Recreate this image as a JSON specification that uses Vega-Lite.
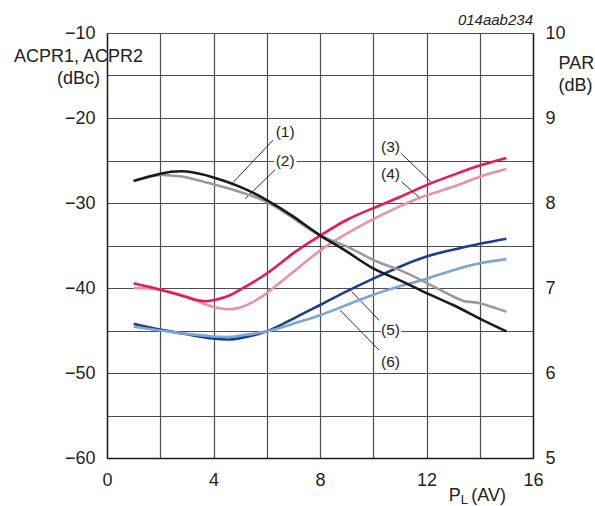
{
  "$schema": "https://vega.github.io/schema/vega-lite/v6.json",
  "width": 426,
  "height": 425,
  "autosize": {"type": "none"},
  "padding": {"left": 107, "top": 33, "right": 62, "bottom": 48},
  "background": "white",
  "config": {
    "font": "Liberation Sans",
    "view": {"stroke": null},
    "axis": {
      "labelFont": "Liberation Sans",
      "titleFont": "Liberation Sans",
      "labelFontSize": 18,
      "titleFontSize": 18,
      "titleFontWeight": "normal",
      "labelColor": "#222",
      "titleColor": "#222",
      "ticks": false,
      "tickSize": 0,
      "domainColor": "#1a1a1a",
      "domainWidth": 1.4,
      "gridColor": "#4d4d4d",
      "gridWidth": 1.2,
      "gridOpacity": 1
    }
  },
  "datasets": {
    "acpr": [
      {"s": "4", "x": 1, "y": -40.0}, {"s": "4", "x": 2, "y": -40.2}, {"s": "4", "x": 3, "y": -41.0}, {"s": "4", "x": 3.5, "y": -41.7}, {"s": "4", "x": 4, "y": -42.2}, {"s": "4", "x": 4.5, "y": -42.5}, {"s": "4", "x": 5, "y": -42.3}, {"s": "4", "x": 5.5, "y": -41.6}, {"s": "4", "x": 6, "y": -40.6}, {"s": "4", "x": 7, "y": -38.1}, {"s": "4", "x": 8, "y": -35.6}, {"s": "4", "x": 9, "y": -33.6}, {"s": "4", "x": 10, "y": -31.9}, {"s": "4", "x": 11, "y": -30.4}, {"s": "4", "x": 12, "y": -29.1}, {"s": "4", "x": 13, "y": -28.1}, {"s": "4", "x": 14, "y": -26.9}, {"s": "4", "x": 15, "y": -26.0},
      {"s": "3", "x": 1, "y": -39.45}, {"s": "3", "x": 2, "y": -40.2}, {"s": "3", "x": 3, "y": -41.1}, {"s": "3", "x": 3.7, "y": -41.55}, {"s": "3", "x": 4.5, "y": -41.0}, {"s": "3", "x": 5, "y": -40.2}, {"s": "3", "x": 6, "y": -38.3}, {"s": "3", "x": 7, "y": -35.9}, {"s": "3", "x": 8, "y": -33.85}, {"s": "3", "x": 9, "y": -32.0}, {"s": "3", "x": 10, "y": -30.6}, {"s": "3", "x": 11, "y": -29.3}, {"s": "3", "x": 12, "y": -27.9}, {"s": "3", "x": 13, "y": -26.7}, {"s": "3", "x": 14, "y": -25.6}, {"s": "3", "x": 15, "y": -24.7},
      {"s": "5", "x": 1, "y": -44.2}, {"s": "5", "x": 2, "y": -44.9}, {"s": "5", "x": 3, "y": -45.45}, {"s": "5", "x": 4, "y": -45.95}, {"s": "5", "x": 4.6, "y": -46.05}, {"s": "5", "x": 5, "y": -45.9}, {"s": "5", "x": 6, "y": -45.1}, {"s": "5", "x": 7, "y": -43.6}, {"s": "5", "x": 8, "y": -42.0}, {"s": "5", "x": 9, "y": -40.4}, {"s": "5", "x": 10, "y": -38.9}, {"s": "5", "x": 11, "y": -37.5}, {"s": "5", "x": 12, "y": -36.3}, {"s": "5", "x": 13, "y": -35.5}, {"s": "5", "x": 14, "y": -34.8}, {"s": "5", "x": 15, "y": -34.2},
      {"s": "6", "x": 1, "y": -44.55}, {"s": "6", "x": 2, "y": -45.0}, {"s": "6", "x": 3, "y": -45.4}, {"s": "6", "x": 4, "y": -45.7}, {"s": "6", "x": 4.6, "y": -45.75}, {"s": "6", "x": 5, "y": -45.6}, {"s": "6", "x": 6, "y": -45.1}, {"s": "6", "x": 7, "y": -44.2}, {"s": "6", "x": 8, "y": -43.2}, {"s": "6", "x": 9, "y": -42.0}, {"s": "6", "x": 10, "y": -40.8}, {"s": "6", "x": 11, "y": -39.8}, {"s": "6", "x": 12, "y": -38.9}, {"s": "6", "x": 13, "y": -37.9}, {"s": "6", "x": 14, "y": -37.1}, {"s": "6", "x": 15, "y": -36.6}
    ],
    "par": [
      {"s": "2", "x": 1, "par": 8.26}, {"s": "2", "x": 1.5, "par": 8.30}, {"s": "2", "x": 2, "par": 8.33}, {"s": "2", "x": 2.5, "par": 8.32}, {"s": "2", "x": 3, "par": 8.30}, {"s": "2", "x": 4, "par": 8.22}, {"s": "2", "x": 5, "par": 8.13}, {"s": "2", "x": 6, "par": 8.01}, {"s": "2", "x": 7, "par": 7.82}, {"s": "2", "x": 8, "par": 7.62}, {"s": "2", "x": 9, "par": 7.49}, {"s": "2", "x": 10, "par": 7.33}, {"s": "2", "x": 11, "par": 7.21}, {"s": "2", "x": 12, "par": 7.06}, {"s": "2", "x": 13, "par": 6.90}, {"s": "2", "x": 13.5, "par": 6.84}, {"s": "2", "x": 14, "par": 6.82}, {"s": "2", "x": 15, "par": 6.72},
      {"s": "1", "x": 1, "par": 8.26}, {"s": "1", "x": 2, "par": 8.345}, {"s": "1", "x": 3, "par": 8.37}, {"s": "1", "x": 4, "par": 8.30}, {"s": "1", "x": 5, "par": 8.19}, {"s": "1", "x": 6, "par": 8.035}, {"s": "1", "x": 7, "par": 7.84}, {"s": "1", "x": 8, "par": 7.62}, {"s": "1", "x": 9, "par": 7.43}, {"s": "1", "x": 10, "par": 7.23}, {"s": "1", "x": 11, "par": 7.09}, {"s": "1", "x": 12, "par": 6.94}, {"s": "1", "x": 13, "par": 6.80}, {"s": "1", "x": 14, "par": 6.64}, {"s": "1", "x": 15, "par": 6.49}
    ],
    "leaders": [
      {"x": 6.24, "y": -22.6, "x2": 4.73, "y2": -27.6},
      {"x": 6.31, "y": -26.1, "x2": 5.19, "y2": -29.5},
      {"x": 11.06, "y": -24.2, "x2": 12.19, "y2": -27.6},
      {"x": 11.06, "y": -27.5, "x2": 11.77, "y2": -29.45},
      {"x": 10.22, "y": -43.8, "x2": 9.19, "y2": -40.4},
      {"x": 10.22, "y": -47.3, "x2": 8.75, "y2": -42.6}
    ],
    "boxes": [
      {"x": 6.27, "x2": 7.12, "y": -24.2, "y2": -25.8},
      {"x": 10.29, "x2": 11.05, "y": -44.2, "y2": -45.8}
    ],
    "labels": [
      {"t": "(1)", "x": 6.69, "y": -21.6},
      {"t": "(2)", "x": 6.69, "y": -25.0},
      {"t": "(3)", "x": 10.65, "y": -23.4},
      {"t": "(4)", "x": 10.65, "y": -26.6},
      {"t": "(5)", "x": 10.65, "y": -44.95},
      {"t": "(6)", "x": 10.65, "y": -48.7}
    ],
    "code": [
      {"t": "014aab234", "x": 16, "y": -9.06}
    ],
    "xtitle": [
      {"t": "P", "x": 12.84, "y": -65.05},
      {"t": "(AV)", "x": 13.68, "y": -65.05}
    ],
    "xsub": [
      {"t": "L", "x": 13.29, "y": -65.4}
    ]
  },
  "layer": [
    {
      "layer": [
        {
          "data": {"name": "boxes"},
          "mark": {"type": "rect", "fill": "white", "stroke": null},
          "encoding": {
            "x": {"field": "x", "type": "quantitative", "scale": {"domain": [0, 16]}},
            "x2": {"field": "x2"},
            "y": {"field": "y", "type": "quantitative", "scale": {"domain": [-60, -10]}},
            "y2": {"field": "y2"}
          }
        },
        {
          "data": {"name": "leaders"},
          "mark": {"type": "rule", "color": "#1a1a1a", "strokeWidth": 0.9},
          "encoding": {
            "x": {"field": "x", "type": "quantitative"},
            "x2": {"field": "x2"},
            "y": {"field": "y", "type": "quantitative"},
            "y2": {"field": "y2"}
          }
        },
        {
          "data": {"name": "acpr"},
          "mark": {"type": "line", "interpolate": "natural", "strokeWidth": 2.6},
          "encoding": {
            "x": {
              "field": "x", "type": "quantitative",
              "scale": {"domain": [0, 16], "nice": false, "zero": false},
              "axis": {
                "values": [0, 2, 4, 6, 8, 10, 12, 14, 16],
                "labelExpr": "datum.value % 4 === 0 ? datum.label : ''",
                "grid": true,
                "labelPadding": 13,
                "title": null,
                "labelFlush": false,
                "labelOverlap": false
              }
            },
            "y": {
              "field": "y", "type": "quantitative",
              "scale": {"domain": [-60, -10], "nice": false, "zero": false},
              "axis": {
                "orient": "left",
                "values": [-60, -55, -50, -45, -40, -35, -30, -25, -20, -15, -10],
                "labelExpr": "datum.value % 10 === 0 ? datum.label : ''",
                "grid": true,
                "labelPadding": 12,
                "labelFlush": false,
                "labelOverlap": false,
                "title": ["ACPR1, ACPR2", "(dBc)"],
                "titleAngle": 0,
                "titleAlign": "center",
                "titleBaseline": "alphabetic",
                "titleX": -29,
                "titleY": 28,
                "titleLineHeight": 22
              }
            },
            "color": {
              "field": "s", "type": "nominal",
              "scale": {"domain": ["1", "2", "3", "4", "5", "6"], "range": ["#1a1a1a", "#9a9a9a", "#e8195a", "#e891a8", "#1a3d8f", "#7aa6d6"]},
              "legend": null
            }
          }
        },
        {
          "data": {"name": "labels"},
          "mark": {"type": "text", "fontSize": 15.5, "font": "Liberation Sans", "color": "#222", "align": "center", "baseline": "middle"},
          "encoding": {
            "x": {"field": "x", "type": "quantitative"},
            "y": {"field": "y", "type": "quantitative"},
            "text": {"field": "t"}
          }
        },
        {
          "data": {"name": "code"},
          "mark": {"type": "text", "fontSize": 15, "font": "Liberation Sans", "fontStyle": "italic", "color": "#222", "align": "right", "baseline": "alphabetic"},
          "encoding": {
            "x": {"field": "x", "type": "quantitative"},
            "y": {"field": "y", "type": "quantitative"},
            "text": {"field": "t"}
          }
        },
        {
          "data": {"name": "xtitle"},
          "mark": {"type": "text", "fontSize": 18, "font": "Liberation Sans", "color": "#222", "align": "left", "baseline": "alphabetic"},
          "encoding": {
            "x": {"field": "x", "type": "quantitative"},
            "y": {"field": "y", "type": "quantitative"},
            "text": {"field": "t"}
          }
        },
        {
          "data": {"name": "xsub"},
          "mark": {"type": "text", "fontSize": 13, "font": "Liberation Sans", "color": "#222", "align": "left", "baseline": "alphabetic"},
          "encoding": {
            "x": {"field": "x", "type": "quantitative"},
            "y": {"field": "y", "type": "quantitative"},
            "text": {"field": "t"}
          }
        }
      ]
    },
    {
      "data": {"name": "par"},
      "mark": {"type": "line", "interpolate": "natural", "strokeWidth": 2.6},
      "encoding": {
        "x": {"field": "x", "type": "quantitative"},
        "y": {
          "field": "par", "type": "quantitative",
          "scale": {"domain": [5, 10], "nice": false, "zero": false},
          "axis": {
            "orient": "right",
            "values": [5, 6, 7, 8, 9, 10],
            "grid": false,
            "labelPadding": 12,
            "labelFlush": false,
            "labelOverlap": false,
            "title": ["PAR", "(dB)"],
            "titleAngle": 0,
            "titleAlign": "left",
            "titleBaseline": "alphabetic",
            "titleX": 25,
            "titleY": 35,
            "titleLineHeight": 22
          }
        },
        "color": {
          "field": "s", "type": "nominal",
          "scale": {"domain": ["1", "2", "3", "4", "5", "6"], "range": ["#1a1a1a", "#9a9a9a", "#e8195a", "#e891a8", "#1a3d8f", "#7aa6d6"]},
          "legend": null
        }
      }
    }
  ],
  "resolve": {"scale": {"y": "independent", "color": "shared"}}
}
